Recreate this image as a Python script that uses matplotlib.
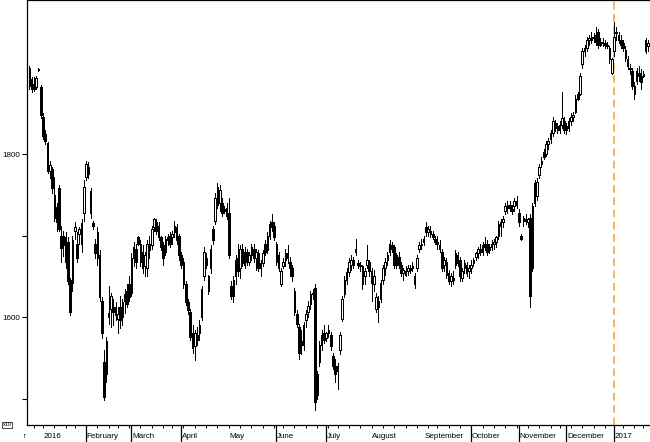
import numpy as np
import pandas as pd
import matplotlib
matplotlib.use("Agg")
import matplotlib.pyplot as plt
from matplotlib.transforms import Bbox, TransformedBbox

plt.rcParams['font.family'] = ['Liberation Sans', 'DejaVu Sans']

# trading days (NYSE calendar)
holidays = ['2015-12-25', '2016-01-01', '2016-01-18', '2016-02-15', '2016-03-25',
            '2016-05-30', '2016-07-04', '2016-09-05', '2016-11-24', '2016-12-26',
            '2017-01-02', '2017-01-16']
dates = pd.bdate_range('2015-12-23', '2017-01-25')
dates = dates[~dates.isin(pd.to_datetime(holidays))]

opens = [1906, 1880, 1886, 1882, 1904, 1882, 1846, 1824, 1813, 1779,
         1782, 1750, 1735, 1758, 1700, 1688, 1698, 1692, 1645, 1642,
         1706, 1690, 1702, 1690, 1728, 1772, 1784, 1755, 1715, 1690,
         1672, 1676, 1620, 1545, 1530, 1600, 1610, 1612, 1602, 1598,
         1612, 1600, 1620, 1632, 1640, 1630, 1672, 1684, 1698, 1690,
         1680, 1662, 1660, 1690, 1688, 1710, 1716, 1712, 1698, 1688,
         1680, 1694, 1700, 1698, 1704, 1710, 1700, 1676, 1668, 1640,
         1618, 1606, 1580, 1565, 1578, 1580, 1600, 1650, 1672, 1650,
         1660, 1708, 1718, 1760, 1740, 1740, 1732, 1734, 1728, 1638,
         1626, 1650, 1672, 1660, 1684, 1664, 1680, 1668, 1676, 1684,
         1672, 1678, 1660, 1666, 1690, 1682, 1700, 1716, 1712, 1690,
         1676, 1640, 1662, 1670, 1678, 1668, 1660, 1632, 1604, 1588,
         1570, 1566, 1596, 1606, 1616, 1630, 1636, 1530, 1545, 1566,
         1580, 1574, 1580, 1578, 1552, 1540, 1534, 1560, 1598, 1628,
         1646, 1655, 1664, 1670, 1680, 1666, 1664, 1662, 1650, 1664,
         1668, 1656, 1640, 1610, 1612, 1622, 1646, 1660, 1670, 1680,
         1688, 1686, 1664, 1674, 1664, 1654, 1656, 1656, 1660, 1660,
         1650, 1660, 1684, 1688, 1692, 1710, 1704, 1706, 1702, 1696,
         1692, 1688, 1680, 1664, 1668, 1654, 1644, 1648, 1664, 1676,
         1670, 1648, 1660, 1664, 1656, 1660, 1666, 1674, 1678, 1684,
         1680, 1690, 1690, 1682, 1686, 1690, 1692, 1700, 1712, 1716,
         1730, 1734, 1738, 1732, 1736, 1742, 1728, 1700, 1718, 1720,
         1716, 1722, 1660, 1764, 1748, 1774, 1788, 1802, 1800, 1812,
         1818, 1826, 1838, 1834, 1830, 1836, 1840, 1830, 1832, 1840,
         1846, 1852, 1874, 1874, 1910, 1926, 1930, 1940, 1940, 1944,
         1946, 1950, 1934, 1938, 1936, 1934, 1930, 1900, 1926, 1950,
         1946, 1940, 1936, 1928, 1916, 1906, 1902, 1884, 1890, 1900,
         1896, 1898, 1940, 1932]
highs = [1908, 1895, 1894, 1896, 1906, 1885, 1850, 1830, 1815, 1792,
         1784, 1772, 1740, 1762, 1712, 1705, 1704, 1698, 1648, 1700,
         1716, 1704, 1710, 1720, 1768, 1792, 1790, 1758, 1718, 1696,
         1710, 1682, 1624, 1560, 1576, 1638, 1630, 1622, 1618, 1612,
         1626, 1622, 1634, 1640, 1650, 1678, 1692, 1690, 1700, 1694,
         1688, 1680, 1694, 1700, 1712, 1722, 1720, 1716, 1700, 1692,
         1700, 1702, 1704, 1706, 1718, 1714, 1702, 1680, 1672, 1644,
         1622, 1610, 1590, 1584, 1588, 1596, 1638, 1686, 1678, 1652,
         1688, 1712, 1752, 1764, 1762, 1746, 1736, 1740, 1746, 1644,
         1650, 1676, 1690, 1688, 1690, 1686, 1684, 1680, 1690, 1690,
         1684, 1682, 1670, 1682, 1694, 1704, 1718, 1726, 1716, 1692,
         1680, 1660, 1672, 1684, 1688, 1674, 1664, 1636, 1608, 1592,
         1584, 1594, 1608, 1620, 1632, 1634, 1640, 1534, 1570, 1584,
         1590, 1582, 1590, 1582, 1556, 1548, 1544, 1582, 1626, 1650,
         1660, 1672, 1676, 1674, 1696, 1670, 1668, 1664, 1660, 1688,
         1670, 1660, 1658, 1630, 1626, 1646, 1664, 1672, 1680, 1694,
         1692, 1688, 1678, 1680, 1668, 1660, 1662, 1664, 1664, 1668,
         1654, 1676, 1692, 1696, 1700, 1716, 1712, 1712, 1706, 1700,
         1700, 1694, 1684, 1674, 1672, 1658, 1654, 1656, 1682, 1680,
         1674, 1660, 1670, 1668, 1664, 1670, 1672, 1680, 1686, 1690,
         1692, 1698, 1694, 1690, 1694, 1696, 1700, 1718, 1720, 1724,
         1740, 1742, 1742, 1738, 1746, 1748, 1732, 1702, 1724, 1726,
         1722, 1726, 1740, 1768, 1770, 1788, 1796, 1806, 1816, 1820,
         1830, 1846, 1842, 1838, 1840, 1876, 1846, 1838, 1844, 1850,
         1852, 1872, 1876, 1900, 1930, 1934, 1944, 1946, 1950, 1948,
         1956, 1954, 1942, 1942, 1940, 1938, 1932, 1918, 1962, 1956,
         1950, 1946, 1940, 1932, 1920, 1910, 1906, 1888, 1906, 1908,
         1904, 1902, 1942, 1940]
lows = [1880, 1876, 1877, 1880, 1902, 1844, 1818, 1812, 1777, 1770,
        1752, 1718, 1706, 1705, 1668, 1675, 1660, 1640, 1602, 1632,
        1696, 1668, 1690, 1680, 1718, 1768, 1770, 1722, 1708, 1672,
        1664, 1620, 1574, 1498, 1520, 1592, 1588, 1590, 1596, 1580,
        1586, 1590, 1605, 1612, 1620, 1626, 1662, 1660, 1688, 1662,
        1654, 1650, 1650, 1672, 1684, 1706, 1702, 1694, 1682, 1664,
        1676, 1688, 1686, 1690, 1698, 1690, 1670, 1660, 1636, 1615,
        1604, 1572, 1556, 1547, 1566, 1572, 1596, 1646, 1660, 1628,
        1654, 1690, 1714, 1734, 1730, 1724, 1728, 1720, 1672, 1622,
        1618, 1640, 1650, 1648, 1662, 1660, 1664, 1664, 1670, 1668,
        1658, 1656, 1650, 1662, 1676, 1678, 1696, 1706, 1694, 1664,
        1656, 1638, 1660, 1662, 1666, 1650, 1644, 1602, 1588, 1548,
        1555, 1560, 1588, 1600, 1610, 1622, 1486, 1500, 1540, 1560,
        1568, 1570, 1576, 1560, 1536, 1520, 1512, 1555, 1595, 1624,
        1640, 1650, 1658, 1660, 1676, 1660, 1656, 1634, 1640, 1660,
        1650, 1620, 1632, 1606, 1594, 1618, 1640, 1652, 1664, 1676,
        1680, 1660, 1660, 1660, 1650, 1646, 1650, 1652, 1654, 1656,
        1636, 1656, 1680, 1684, 1688, 1700, 1700, 1698, 1696, 1690,
        1684, 1680, 1656, 1656, 1648, 1640, 1638, 1640, 1660, 1662,
        1644, 1644, 1654, 1650, 1648, 1654, 1662, 1670, 1672, 1676,
        1676, 1682, 1676, 1678, 1682, 1684, 1686, 1696, 1700, 1710,
        1726, 1728, 1730, 1726, 1730, 1734, 1712, 1694, 1712, 1714,
        1710, 1612, 1656, 1736, 1744, 1770, 1784, 1794, 1798, 1806,
        1814, 1822, 1828, 1826, 1826, 1832, 1826, 1824, 1828, 1836,
        1840, 1850, 1866, 1872, 1906, 1920, 1926, 1934, 1936, 1938,
        1934, 1930, 1932, 1932, 1930, 1930, 1912, 1898, 1920, 1940,
        1936, 1930, 1926, 1914, 1904, 1898, 1880, 1868, 1886, 1890,
        1880, 1894, 1924, 1926]
closes = [1884, 1892, 1880, 1893, 1903, 1848, 1822, 1816, 1779, 1786,
          1758, 1722, 1716, 1708, 1685, 1700, 1668, 1644, 1606, 1695,
          1710, 1672, 1708, 1715, 1760, 1788, 1775, 1728, 1712, 1678,
          1704, 1624, 1580, 1502, 1570, 1605, 1626, 1606, 1612, 1604,
          1596, 1618, 1628, 1616, 1624, 1672, 1686, 1668, 1690, 1668,
          1660, 1676, 1690, 1682, 1708, 1720, 1706, 1698, 1686, 1672,
          1696, 1698, 1690, 1702, 1712, 1694, 1676, 1664, 1640, 1618,
          1608, 1576, 1562, 1580, 1572, 1590, 1634, 1680, 1664, 1632,
          1684, 1694, 1746, 1738, 1756, 1728, 1730, 1724, 1676, 1626,
          1646, 1670, 1656, 1684, 1666, 1680, 1668, 1676, 1686, 1672,
          1680, 1660, 1666, 1678, 1680, 1700, 1714, 1710, 1698, 1668,
          1660, 1656, 1668, 1678, 1672, 1660, 1650, 1606, 1592, 1556,
          1566, 1590, 1604, 1614, 1628, 1628, 1496, 1504, 1566, 1578,
          1572, 1580, 1584, 1564, 1540, 1530, 1540, 1578, 1622, 1646,
          1655, 1668, 1670, 1664, 1684, 1664, 1662, 1640, 1656, 1670,
          1656, 1642, 1650, 1624, 1620, 1642, 1660, 1668, 1676, 1690,
          1684, 1664, 1676, 1664, 1654, 1658, 1652, 1660, 1658, 1662,
          1640, 1672, 1688, 1690, 1696, 1704, 1708, 1702, 1698, 1692,
          1690, 1684, 1660, 1670, 1652, 1644, 1650, 1646, 1678, 1666,
          1650, 1656, 1666, 1654, 1660, 1664, 1670, 1678, 1684, 1680,
          1688, 1686, 1680, 1686, 1690, 1692, 1698, 1714, 1716, 1720,
          1736, 1738, 1734, 1730, 1742, 1738, 1716, 1696, 1722, 1718,
          1720, 1626, 1736, 1740, 1766, 1784, 1792, 1796, 1812, 1816,
          1826, 1840, 1832, 1830, 1836, 1844, 1830, 1834, 1840, 1846,
          1848, 1868, 1868, 1896, 1926, 1930, 1940, 1942, 1944, 1942,
          1938, 1934, 1938, 1936, 1934, 1932, 1916, 1916, 1944, 1948,
          1940, 1934, 1930, 1918, 1908, 1904, 1884, 1874, 1902, 1896,
          1888, 1896, 1926, 1936]

# label anchor dates (first one sits left of the chart and is mostly cut off)
month_starts = ['2015-11-27', '2016-01-01', '2016-02-01', '2016-03-01', '2016-04-01',
                '2016-05-01', '2016-06-01', '2016-07-01', '2016-08-01', '2016-09-01',
                '2016-10-01', '2016-11-01', '2016-12-01', '2017-01-01']
month_labels = ['December', '2016', 'February', 'March', 'April', 'May', 'June',
                'July', 'August', 'September', 'October', 'November', 'December', '2017']
month_lines = ['2016-02-01', '2016-03-01', '2016-04-01', '2016-06-01', '2016-07-01',
               '2016-10-01', '2016-11-01', '2016-12-01', '2017-01-01']
marker_date = '2017-01-03'

o = np.array(opens, dtype=float)
h = np.array(highs, dtype=float)
l = np.array(lows, dtype=float)
c = np.array(closes, dtype=float)
x = np.arange(len(dates))
assert len(o) == len(h) == len(l) == len(c) == len(dates)

d0 = dates[0].strftime('%Y-%m-%d')
def pos(day):
    return np.busday_count(d0, day, holidays=holidays)

fig = plt.figure(figsize=(6.5, 4.42), dpi=100)
ax = fig.add_axes([27/650, 17/442, 623/650, 425/442])

up = c >= o
ax.vlines(x, l, h, color='black', linewidth=0.7, antialiased=False, zorder=2)
ax.bar(x[up], (c - o)[up], bottom=o[up], width=0.7, facecolor='white',
       edgecolor='black', linewidth=0.6, antialiased=False, zorder=3)
ax.bar(x[~up], (o - c)[~up], bottom=c[~up], width=0.7, facecolor='black',
       edgecolor='black', linewidth=0.6, antialiased=False, zorder=3)

ax.axvline(pos(marker_date), color='#ff9a2e', linestyle=(0, (5, 3)), linewidth=1.1, zorder=1)

ax.spines['right'].set_visible(False)
for s in ['left', 'top', 'bottom']:
    ax.spines[s].set_linewidth(0.9)

ax.set_yticks([1600, 1800])
ax.set_yticklabels(['1600', '1800'], fontsize=5.8)
ax.set_yticks([1500, 1700], minor=True)
ax.tick_params(axis='y', which='both', direction='out', length=3.5, width=0.8, pad=1.5)

ax.set_xticks([pos(m) for m in month_lines])
ax.set_xticklabels([])
ax.tick_params(axis='x', which='major', direction='out', length=13, width=0.9)
weeks = pd.date_range('2015-12-28', '2017-01-23', freq='W-MON')
ax.set_xticks([pos(w.strftime('%Y-%m-%d')) for w in weeks], minor=True)
ax.tick_params(axis='x', which='minor', direction='out', length=2.5, width=0.7)

# limits last, set_xticks may widen them
ax.set_xlim(-1.06, 273.9)
ax.set_ylim(1467.5, 1989)

clip = TransformedBbox(Bbox([[24/650, 0], [1, 1]]), fig.transFigure)
for m, lab in zip(month_starts, month_labels):
    t = ax.annotate(lab, xy=(pos(m), 0), xycoords=('data', 'axes fraction'),
                    xytext=(0.4, -8.6), textcoords='offset points', fontsize=5.8,
                    ha='left', va='center', annotation_clip=False)
    t.set_clip_box(clip)
    t.set_clip_on(True)

fig.text(7/650, 1 - 425/442, 'x10', fontsize=4, ha='center', va='center',
         bbox=dict(boxstyle='square,pad=0.15', facecolor='white', edgecolor='black', linewidth=0.5))

fig.savefig('out.png', dpi=100)
